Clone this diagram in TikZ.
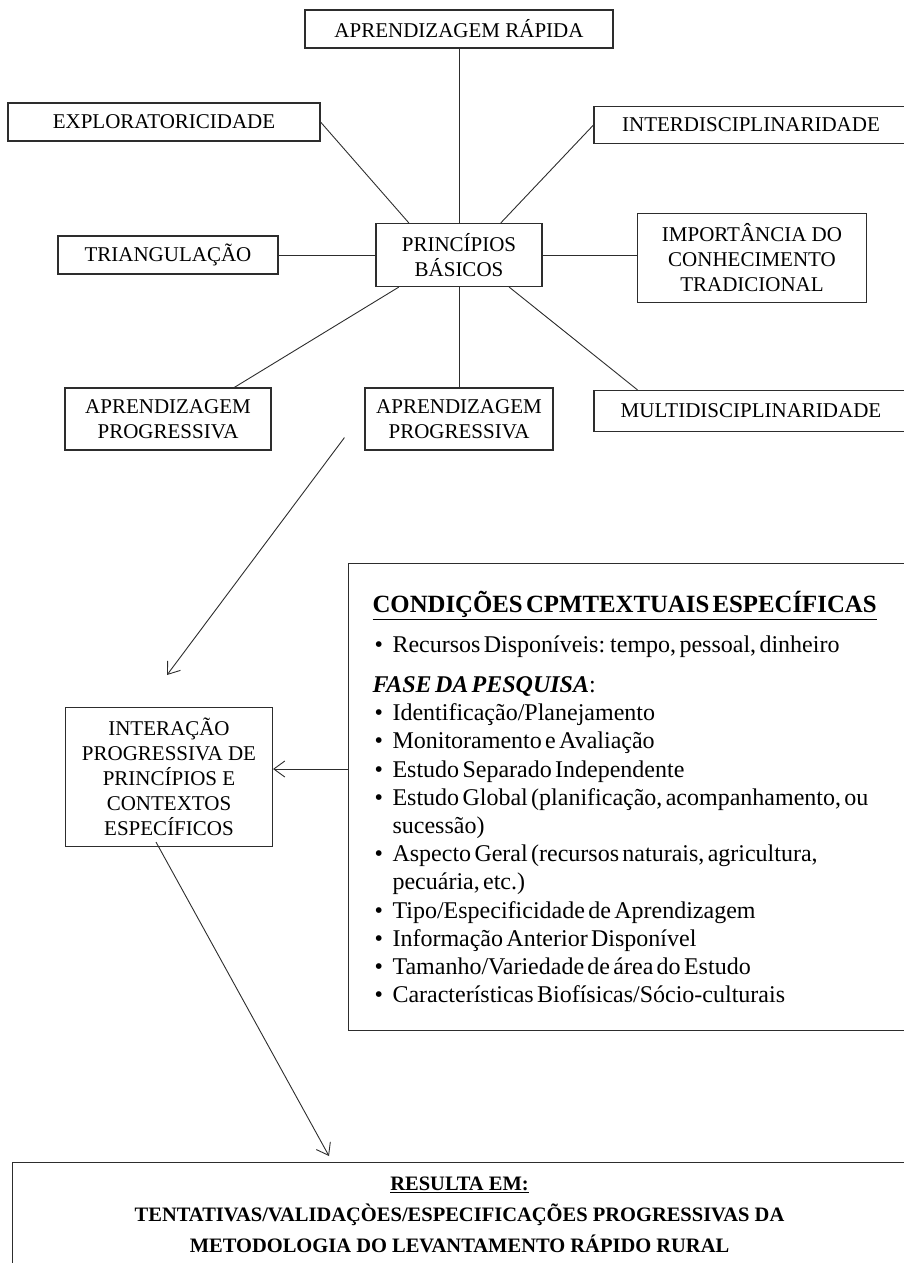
\documentclass[tikz,border=0pt]{standalone}
\usepackage{fontspec}
\setmainfont{Liberation Serif}
\usetikzlibrary{arrows.meta, positioning, calc}
\definecolor{inkgray}{RGB}{45, 45, 45}

% bullet line with hanging indent for the conditions box
\newcommand{\condItem}{\hangindent=20pt\hangafter=1\noindent\makebox[20pt][l]{\hspace{2pt}\textbullet}}

\begin{document}
\begin{tikzpicture}[x=1pt, y=-1pt,
    box/.style={rectangle, draw=inkgray, line width=1.1pt, align=center,
                inner sep=2pt, font=\fontsize{21}{25}\selectfont},
    bigbox/.style={rectangle, draw=inkgray, line width=1.1pt, anchor=north west},
    conn/.style={draw=inkgray, line width=0.9pt},
    arr/.style={conn, -{Straight Barb[length=11pt, width=16pt]}}
]
    \useasboundingbox (0,0) rectangle (904,1263);

    % principles around the centre
    \node[box, minimum width=308pt, minimum height=38pt] (rapida) at (459,29) {APRENDIZAGEM RÁPIDA};
    \node[box, minimum width=312pt, minimum height=38pt] (explor) at (164,122) {EXPLORATORICIDADE};
    \node[box, minimum width=314pt, minimum height=37pt] (inter) at (751,125) {INTERDISCIPLINARIDADE};
    \node[box, minimum width=220pt, minimum height=38pt] (triang) at (168,255) {TRIANGULAÇÃO};
    \node[box, minimum width=166pt, minimum height=63pt] (princ) at (459,255) {PRINCÍPIOS\\BÁSICOS};
    \node[box, minimum width=229pt, minimum height=89pt] (import) at (752,258) {IMPORTÂNCIA DO\\CONHECIMENTO\\TRADICIONAL};
    \node[box, minimum width=206pt, minimum height=62pt] (aprL) at (168,419) {APRENDIZAGEM\\PROGRESSIVA};
    \node[box, minimum width=188pt, minimum height=62pt] (aprM) at (459,419) {APRENDIZAGEM\\PROGRESSIVA};
    \node[box, minimum width=314pt, minimum height=41pt] (multi) at (751,411) {MULTIDISCIPLINARIDADE};

    % interaction and context
    \node[box, minimum width=207pt, minimum height=139pt] (interacao) at (169,777)
        {INTERAÇÃO\\PROGRESSIVA DE\\PRINCÍPIOS E\\CONTEXTOS\\ESPECÍFICOS};
    \node[bigbox, inner xsep=24pt, inner ysep=0pt, text width=540pt, minimum height=467pt] (cond) at (348,563)
        {\parbox{507pt}{\fontsize{24}{28.2}\selectfont
        {\fontsize{24.8}{28}\selectfont\bfseries\underline{CONDIÇÕES CPMTEXTUAIS ESPECÍFICAS}\par}
        \vspace{11.8pt}
        \condItem Recursos Disponíveis: tempo, pessoal, dinheiro\par
        \vspace{11.8pt}
        \textbf{\textit{FASE DA PESQUISA}}:\par
        \condItem Identificação/Planejamento\par
        \condItem Monitoramento e Avaliação\par
        \condItem Estudo Separado Independente\par
        \condItem Estudo Global (planificação, acompanhamento, ou\linebreak sucessão)\par
        \condItem Aspecto Geral (recursos naturais, agricultura,\linebreak pecuária, etc.)\par
        \condItem Tipo/Especificidade de Aprendizagem\par
        \condItem Informação Anterior Disponível\par
        \condItem Tamanho/Variedade de área do Estudo\par
        \condItem Características Biofísicas/Sócio-culturais\par}};
    \node[bigbox, minimum width=894pt, minimum height=104pt, align=center,
          font=\fontsize{20.5}{31}\selectfont\bfseries] (resulta) at (12,1162)
        {\underline{RESULTA EM:}\\TENTATIVAS/VALIDAÇÒES/ESPECIFICAÇÕES PROGRESSIVAS DA\\METODOLOGIA DO LEVANTAMENTO RÁPIDO RURAL};

    % spokes
    \draw[conn] (rapida) -- (princ);
    \draw[conn] (explor.east) -- ($(princ.north west)!0.2!(princ.north east)$);
    \draw[conn] (inter.west) -- ($(princ.north west)!0.75!(princ.north east)$);
    \draw[conn] (triang) -- (princ);
    \draw[conn] (princ.east) -- (princ.east -| import.west);
    \draw[conn] ($(princ.south west)!0.14!(princ.south east)$) -- ($(aprL.north west)!0.82!(aprL.north east)$);
    \draw[conn] (princ) -- (aprM);
    \draw[conn] ($(princ.south west)!0.8!(princ.south east)$) -- ($(multi.north west)!0.14!(multi.north east)$);

    % arrows
    \coordinate (tipA) at (167,675);
    \draw[arr] ([xshift=-20pt, yshift=13pt]aprM.south west) -- (tipA);
    \coordinate (arrB) at ([yshift=8pt]interacao.east);
    \draw[arr] (arrB -| cond.west) -- (arrB);
    \coordinate (tipC) at (329,1156);
    \draw[arr] ([xshift=-13pt, yshift=5pt]interacao.south) -- (tipC);
\end{tikzpicture}
\end{document}
